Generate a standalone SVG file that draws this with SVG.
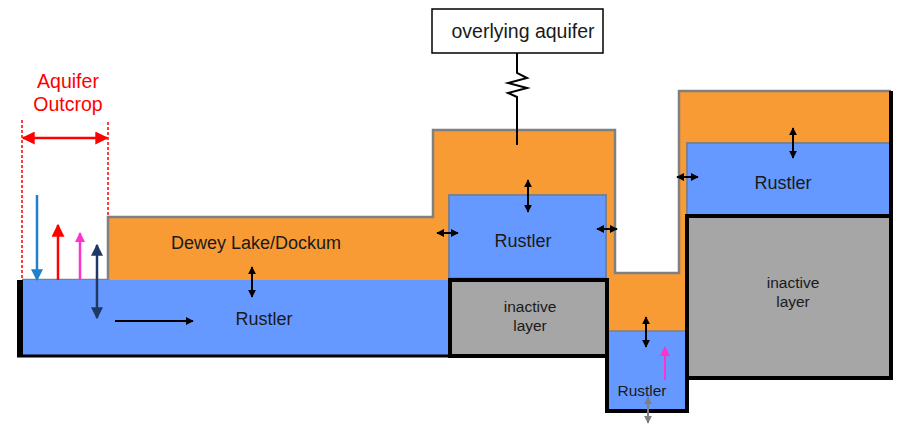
<svg xmlns="http://www.w3.org/2000/svg" width="900" height="425" viewBox="0 0 900 425">
<style>
text{font-family:"Liberation Sans",Arial,sans-serif;fill:#1a1a1a;text-anchor:middle}
.lbl{font-size:18px}
.sm{font-size:15.5px}
.red{fill:#ff0000;font-size:19.5px}
.blue{fill:#6699ff}
.inact{fill:#a6a6a6;stroke:#000;stroke-width:4}
.blk{stroke:#000;stroke-width:2;fill:none;marker-start:url(#ak);marker-end:url(#ak)}
</style>
<defs>
<marker id="ak" viewBox="0 0 10 10" refX="9" refY="5" markerWidth="8" markerHeight="8" markerUnits="userSpaceOnUse" orient="auto-start-reverse"><path d="M0,0 L10,5 L0,10 z" fill="#000"/></marker>
<marker id="ag" viewBox="0 0 10 10" refX="9" refY="5" markerWidth="8" markerHeight="8" markerUnits="userSpaceOnUse" orient="auto-start-reverse"><path d="M0,0 L10,5 L0,10 z" fill="#7f7f7f"/></marker>
<marker id="ar" viewBox="0 0 10 10" refX="9" refY="5" markerWidth="13" markerHeight="13" markerUnits="userSpaceOnUse" orient="auto-start-reverse"><path d="M0,0 L10,5 L0,10 z" fill="#ff0000"/></marker>
<marker id="ab" viewBox="0 0 10 10" refX="9" refY="5" markerWidth="12" markerHeight="12" markerUnits="userSpaceOnUse" orient="auto-start-reverse"><path d="M0,0 L10,5 L0,10 z" fill="#2080d0"/></marker>
<marker id="am" viewBox="0 0 10 10" refX="9" refY="5" markerWidth="10" markerHeight="10" markerUnits="userSpaceOnUse" orient="auto-start-reverse"><path d="M0,0 L10,5 L0,10 z" fill="#ff33cc"/></marker>
<marker id="an" viewBox="0 0 10 10" refX="9" refY="5" markerWidth="12" markerHeight="12" markerUnits="userSpaceOnUse" orient="auto-start-reverse"><path d="M0,0 L10,5 L0,10 z" fill="#1f3864"/></marker>
</defs>

<g id="dewey-lake">
<polygon points="108,217 433,217 433,130 615,130 615,273 679,273 679,91 891,91 891,216 687,216 687,331 609,331 609,280 108,280" fill="#f99b35"/>
<path d="M22,280 H108 V217 H433 V130 H615 V273 H679 V91 H891" fill="none" stroke="#808080" stroke-width="2.5"/>
<text class="lbl" x="256" y="249">Dewey Lake/Dockum</text>
</g>

<g id="rustler-left">
<rect class="blue" x="22" y="280" width="428" height="76"/>
<rect x="17" y="280" width="6" height="77" fill="#000"/>
<line x1="17" y1="356" x2="450" y2="356" stroke="#000" stroke-width="3"/>
<text class="lbl" x="264" y="325">Rustler</text>
</g>

<g id="rustler-middle">
<rect class="blue" x="449" y="195" width="157" height="83" stroke="#808080" stroke-width="2"/>
<text class="lbl" x="523" y="247">Rustler</text>
</g>

<g id="inactive-middle">
<rect class="inact" x="450" y="280" width="157" height="76"/>
<text class="sm" x="530" y="312">inactive</text>
<text class="sm" x="530" y="331">layer</text>
</g>

<g id="rustler-right">
<rect class="blue" x="687" y="143" width="204" height="72" stroke="#808080" stroke-width="2"/>
<text class="lbl" x="783" y="189">Rustler</text>
</g>

<g id="inactive-right">
<rect class="inact" x="687" y="216" width="204" height="162"/>
<text class="sm" x="793" y="288">inactive</text>
<text class="sm" x="793" y="307">layer</text>
</g>

<g id="rustler-small">
<rect class="blue" x="609" y="331" width="78" height="79"/>
<line x1="609" y1="331" x2="686" y2="331" stroke="#808080" stroke-width="1.5"/>
<path d="M607,280 V411 H687 V216" fill="none" stroke="#000" stroke-width="4"/>
<text class="sm" x="642" y="396">Rustler</text>
</g>

<line x1="891" y1="91" x2="891" y2="380" stroke="#000" stroke-width="4"/>

<g id="overlying-aquifer">
<rect x="432" y="9" width="171" height="44" fill="#fff" stroke="#000" stroke-width="1.5"/>
<text x="523" y="38" style="font-size:19.5px">overlying aquifer</text>
</g>

<g id="aquifer-outcrop">
<text class="red" x="68" y="88">Aquifer</text>
<text class="red" x="68" y="111">Outcrop</text>
</g>

<g id="connectors">
<path d="M517,53 V73 L527,78 L508,83 L527,88 L508,93 L517,97 V145" fill="none" stroke="#000" stroke-width="2"/>
<line x1="22" y1="120" x2="22" y2="280" stroke="#ff0000" stroke-width="1.5" stroke-dasharray="3,2"/>
<line x1="108" y1="122" x2="108" y2="217" stroke="#ff0000" stroke-width="1.5" stroke-dasharray="3,2"/>
<line x1="23" y1="138" x2="107" y2="138" stroke="#ff0000" stroke-width="2.5" marker-start="url(#ar)" marker-end="url(#ar)"/>
<line x1="37" y1="195" x2="37" y2="280" stroke="#2080d0" stroke-width="2.5" marker-end="url(#ab)"/>
<line x1="58" y1="280" x2="58" y2="225" stroke="#ff0000" stroke-width="2.5" marker-end="url(#ar)"/>
<line x1="80" y1="280" x2="80" y2="233" stroke="#ff33cc" stroke-width="2.5" marker-end="url(#am)"/>
<line x1="97" y1="245" x2="97" y2="318" stroke="#1f3864" stroke-width="2.5" marker-start="url(#an)" marker-end="url(#an)"/>
<line x1="115" y1="321" x2="193" y2="321" stroke="#000" stroke-width="2" marker-end="url(#ak)"/>
<line class="blk" x1="252" y1="267" x2="252" y2="297"/>
<line class="blk" x1="437" y1="233" x2="458" y2="233"/>
<line class="blk" x1="597" y1="229" x2="617" y2="229"/>
<line class="blk" x1="528" y1="180" x2="528" y2="212"/>
<line class="blk" x1="793" y1="128" x2="793" y2="158"/>
<line class="blk" x1="677" y1="177" x2="698" y2="177"/>
<line class="blk" x1="646" y1="317" x2="646" y2="347"/>
<line x1="665" y1="380" x2="665" y2="347" stroke="#ff33cc" stroke-width="2" marker-end="url(#am)"/>
<line x1="648" y1="397" x2="648" y2="423" stroke="#7f7f7f" stroke-width="2" marker-start="url(#ag)" marker-end="url(#ag)"/>
</g>
</svg>
